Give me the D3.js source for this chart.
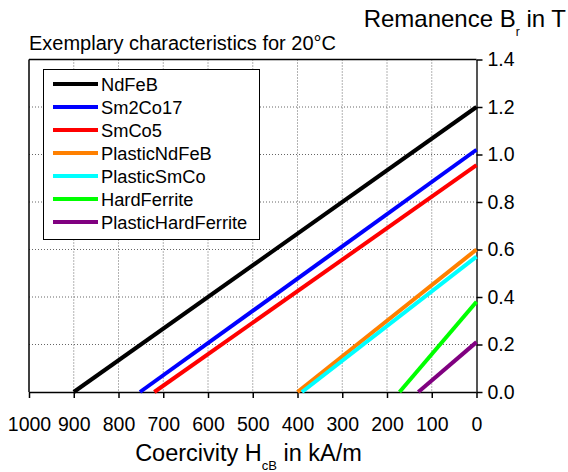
<!DOCTYPE html>
<html>
<head>
<meta charset="utf-8">
<script src="https://cdn.jsdelivr.net/npm/d3@7"></script>
<style>
	body { margin: 0; background: #fff; }
	text { font-family: "Liberation Sans", Arial, sans-serif; fill: #000; }
</style>
</head>
<body>
<div></div>
<script>
var width = 568;
var height = 472;

// magnet materials: coercivity (kA/m) where B = 0, remanence (T) where H = 0
var materials = ["NdFeB", "Sm2Co17", "SmCo5", "PlasticNdFeB", "PlasticSmCo", "HardFerrite", "PlasticHardFerrite"];
var coercivity = [900, 752, 720, 400, 390, 172, 130];
var remanence = [1.2, 1.02, 0.955, 0.6, 0.57, 0.38, 0.21];
var colors = ["#000000", "#0000ff", "#ff0000", "#ff8000", "#00ffff", "#00ff00", "#800080"];

var xTicks = [1000, 900, 800, 700, 600, 500, 400, 300, 200, 100, 0];
var yTicks = [0, 0.2, 0.4, 0.6, 0.8, 1.0, 1.2, 1.4];

var plot = { left: 29, right: 476.5, top: 59.5, bottom: 392 };

var svg = d3.select("div")
	.append("svg")
	.attr("width", width)
	.attr("height", height);

var x = d3.scaleLinear().domain([1000, 0]).range([plot.left, plot.right]);
var y = d3.scaleLinear().domain([0, 1.4]).range([plot.bottom, plot.top]);

// grid
svg.append("g")
	.selectAll("line")
	.data(xTicks.slice(1, -1))
	.enter()
	.append("line")
	.attr("x1", d => x(d))
	.attr("x2", d => x(d))
	.attr("y1", plot.top)
	.attr("y2", plot.bottom)
	.attr("stroke", "#666")
	.attr("stroke-width", 1)
	.attr("stroke-dasharray", "1,2");

svg.append("g")
	.selectAll("line")
	.data(yTicks.slice(1, -1))
	.enter()
	.append("line")
	.attr("x1", plot.left)
	.attr("x2", plot.right)
	.attr("y1", d => y(d))
	.attr("y2", d => y(d))
	.attr("stroke", "#666")
	.attr("stroke-width", 1)
	.attr("stroke-dasharray", "1,2");

// frame
svg.append("line")
	.attr("x1", plot.left).attr("x2", plot.left)
	.attr("y1", plot.top).attr("y2", plot.bottom)
	.attr("stroke", "#000").attr("stroke-width", 1.5);
svg.append("line")
	.attr("x1", plot.left).attr("x2", plot.right)
	.attr("y1", plot.top).attr("y2", plot.top)
	.attr("stroke", "#000").attr("stroke-width", 1.5);

// axes
var xAxis = svg.append("g")
	.attr("transform", "translate(0," + plot.bottom + ")")
	.call(d3.axisBottom(x).tickValues(xTicks).tickFormat(d3.format("d")).tickSize(6).tickPadding(19).tickSizeOuter(0));

var yAxis = svg.append("g")
	.attr("transform", "translate(" + plot.right + ",0)")
	.call(d3.axisRight(y).tickValues(yTicks).tickFormat(d3.format(".1f")).tickSize(6).tickPadding(5).tickSizeOuter(0));

xAxis.select(".domain").attr("stroke", "#000").attr("stroke-width", 1.5);
yAxis.select(".domain").attr("stroke", "#555").attr("stroke-width", 2);
svg.selectAll(".tick line").attr("stroke", "#000").attr("stroke-width", 1.5);
svg.selectAll(".tick text").attr("font-size", 19.5).attr("font-family", "Liberation Sans, Arial, sans-serif");

// characteristic lines
var lineElements = svg.append("g")
	.selectAll("line")
	.data(materials)
	.enter()
	.append("line")
	.attr("x1", (d, i) => x(coercivity[i]))
	.attr("y1", y(0))
	.attr("x2", x(0))
	.attr("y2", (d, i) => y(remanence[i]))
	.attr("stroke", (d, i) => colors[i])
	.attr("stroke-width", 4);

// legend
var legend = svg.append("g");
legend.append("rect")
	.attr("x", 43.5)
	.attr("y", 69.5)
	.attr("width", 216)
	.attr("height", 170)
	.attr("fill", "#fff")
	.attr("stroke", "#000")
	.attr("stroke-width", 1);

var entries = legend.selectAll("g")
	.data(materials)
	.enter()
	.append("g")
	.attr("transform", (d, i) => "translate(0," + (84 + i * 23) + ")");

entries.append("line")
	.attr("x1", 53)
	.attr("x2", 98)
	.attr("stroke", (d, i) => colors[i])
	.attr("stroke-width", 4);

entries.append("text")
	.attr("x", 101)
	.attr("dy", "0.36em")
	.attr("font-size", 18.3)
	.text(d => d);

// titles
svg.append("text")
	.attr("x", 29)
	.attr("y", 50)
	.attr("font-size", 20)
	.text("Exemplary characteristics for 20°C");

var yTitle = svg.append("text")
	.attr("x", 566)
	.attr("y", 27)
	.attr("text-anchor", "end")
	.attr("font-size", 24);
yTitle.append("tspan").text("Remanence B");
yTitle.append("tspan").attr("dy", 9).attr("font-size", 12).text("r");
yTitle.append("tspan").attr("dy", -9).text(" in T");

var xTitle = svg.append("text")
	.attr("x", 248.5)
	.attr("y", 461)
	.attr("text-anchor", "middle")
	.attr("font-size", 23.5);
xTitle.append("tspan").text("Coercivity H");
xTitle.append("tspan").attr("dy", 9).attr("font-size", 13).text("cB");
xTitle.append("tspan").attr("dy", -9).text(" in kA/m");
</script>
</body>
</html>
